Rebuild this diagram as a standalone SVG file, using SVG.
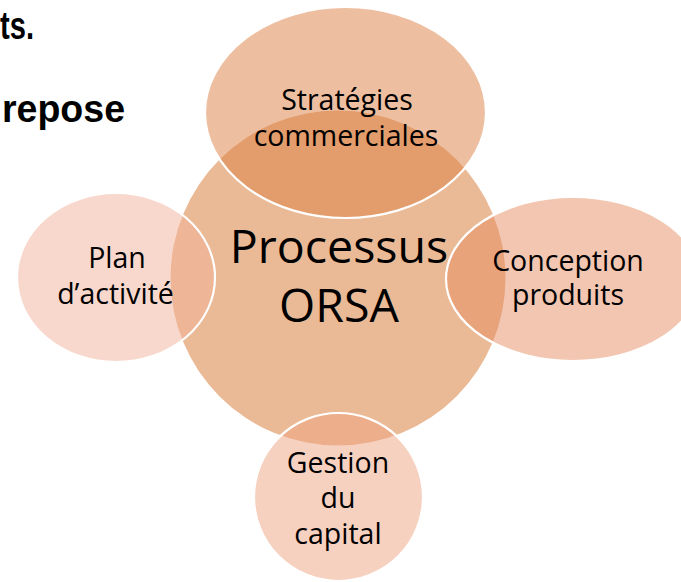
<svg xmlns="http://www.w3.org/2000/svg" width="681" height="582" viewBox="0 0 681 582">
<style>
.bg{font-family:"Liberation Sans",Arial,sans-serif;font-weight:bold;font-size:39px;fill:#000}
.sat{stroke:#fff;stroke-width:2.2}
.lbl{font-family:"Open Sans","Noto Sans",sans-serif;font-size:28.5px;fill:#000;text-anchor:middle}
.main{font-family:"Open Sans","Noto Sans",sans-serif;font-size:46.5px;fill:#000;text-anchor:middle}
</style>
<rect width="681" height="582" fill="#fff"/>
<text class="bg" x="0" y="39" textLength="34" lengthAdjust="spacingAndGlyphs">ts.</text>
<text class="bg" x="2" y="122" textLength="123" lengthAdjust="spacingAndGlyphs">repose</text>
<g id="processus">
<circle cx="338" cy="278" r="167.5" fill="#EAB995"/>
</g>
<g id="strategies">
<ellipse class="sat" cx="345.5" cy="112.5" rx="140.5" ry="105.5" fill="rgb(219,127,65)" fill-opacity="0.5"/>
<text class="lbl" x="347" y="110">Stratégies</text>
<text class="lbl" x="346" y="145.5">commerciales</text>
</g>
<g id="plan">
<ellipse class="sat" cx="116" cy="277.5" rx="99" ry="84.5" fill="rgb(241,177,153)" fill-opacity="0.5"/>
<text class="lbl" x="117" y="268">Plan</text>
<text class="lbl" x="115.5" y="304">d’activité</text>
</g>
<g id="conception">
<ellipse class="sat" cx="573" cy="279" rx="127" ry="82" fill="rgb(229,141,97)" fill-opacity="0.5"/>
<text class="lbl" x="568" y="270.5">Conception</text>
<text class="lbl" x="568" y="304.5">produits</text>
</g>
<g id="gestion">
<ellipse class="sat" cx="338.5" cy="497" rx="84.5" ry="84" fill="rgb(237,163,129)" fill-opacity="0.5"/>
<text class="lbl" x="338" y="472.5">Gestion</text>
<text class="lbl" x="338" y="508">du</text>
<text class="lbl" x="338" y="543.5">capital</text>
</g>
<g id="processus-label">
<text class="main" x="339" y="263">Processus</text>
<text class="main" x="339" y="322">ORSA</text>
</g>
<g id="connectors"/>
</svg>
